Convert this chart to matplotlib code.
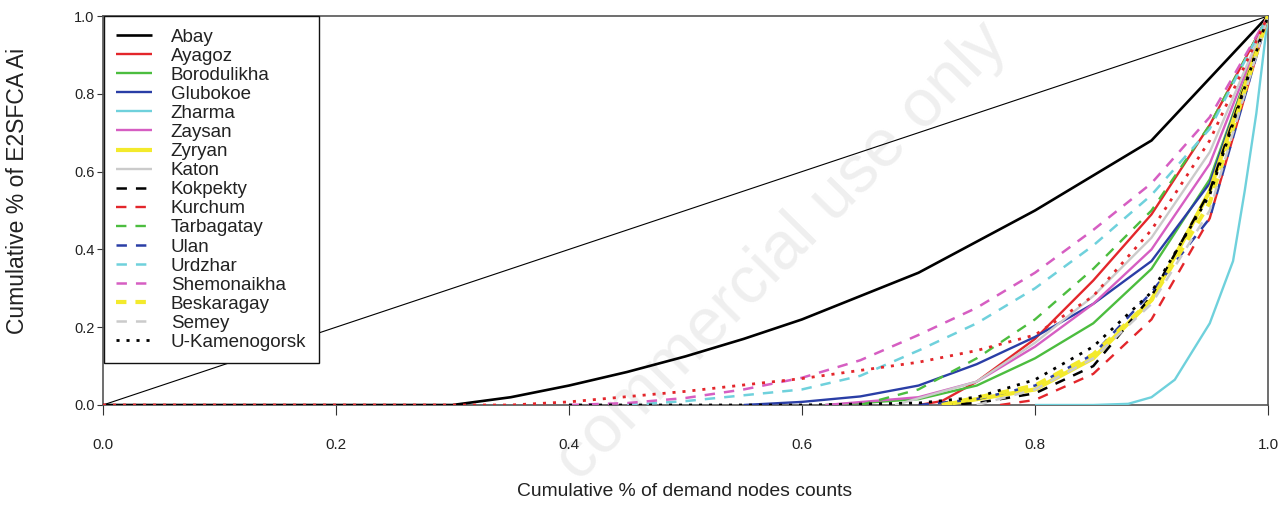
import matplotlib
matplotlib.use("Agg")
import matplotlib.pyplot as plt

plt.rcParams["font.family"] = ["Liberation Sans", "DejaVu Sans"]
plt.rcParams["lines.scale_dashes"] = False

# Lorenz-type curves: cumulative share of demand nodes vs cumulative share of E2SFCA Ai
names = ["Abay", "Ayagoz", "Borodulikha", "Glubokoe", "Zharma", "Zaysan", "Zyryan",
         "Katon", "Kokpekty", "Kurchum", "Tarbagatay", "Ulan", "Urdzhar",
         "Shemonaikha", "Beskaragay", "Semey", "U-Kamenogorsk"]

abay_x = [0.0, 0.30, 0.35, 0.40, 0.45, 0.50, 0.55, 0.60, 0.65, 0.70, 0.75, 0.80, 0.85, 0.90, 0.95, 1.0]
abay_y = [0.0, 0.0, 0.02, 0.05, 0.085, 0.125, 0.17, 0.22, 0.28, 0.34, 0.42, 0.50, 0.59, 0.68, 0.84, 1.0]

ayagoz_x = [0.70, 0.72, 0.75, 0.80, 0.85, 0.90, 0.95, 1.0]
ayagoz_y = [0.0, 0.01, 0.06, 0.17, 0.32, 0.49, 0.72, 1.0]

borodulikha_x = [0.62, 0.65, 0.70, 0.75, 0.80, 0.85, 0.90, 0.95, 1.0]
borodulikha_y = [0.0, 0.005, 0.015, 0.05, 0.12, 0.21, 0.35, 0.58, 1.0]

glubokoe_x = [0.55, 0.60, 0.65, 0.70, 0.75, 0.80, 0.85, 0.90, 0.95, 1.0]
glubokoe_y = [0.0, 0.008, 0.022, 0.05, 0.105, 0.175, 0.26, 0.37, 0.57, 1.0]

zharma_x = [0.80, 0.85, 0.88, 0.90, 0.92, 0.95, 0.97, 0.98, 0.99, 1.0]
zharma_y = [0.0, 0.0, 0.003, 0.02, 0.065, 0.21, 0.37, 0.55, 0.75, 1.0]

zaysan_x = [0.62, 0.70, 0.75, 0.80, 0.85, 0.90, 0.95, 1.0]
zaysan_y = [0.0, 0.02, 0.06, 0.15, 0.26, 0.40, 0.62, 1.0]

zyryan_x = [0.72, 0.80, 0.85, 0.90, 0.95, 1.0]
zyryan_y = [0.0, 0.04, 0.12, 0.27, 0.55, 1.0]

katon_x = [0.68, 0.75, 0.80, 0.85, 0.90, 0.95, 1.0]
katon_y = [0.0, 0.06, 0.16, 0.28, 0.43, 0.65, 1.0]

kokpekty_x = [0.72, 0.75, 0.80, 0.85, 0.90, 0.95, 1.0]
kokpekty_y = [0.0, 0.005, 0.03, 0.10, 0.28, 0.55, 1.0]

kurchum_x = [0.77, 0.80, 0.85, 0.90, 0.95, 1.0]
kurchum_y = [0.0, 0.013, 0.08, 0.22, 0.48, 1.0]

tarbagatay_x = [0.65, 0.70, 0.75, 0.80, 0.85, 0.90, 0.95, 1.0]
tarbagatay_y = [0.0, 0.04, 0.12, 0.22, 0.35, 0.50, 0.72, 1.0]

ulan_x = [0.70, 0.75, 0.80, 0.85, 0.90, 0.95, 1.0]
ulan_y = [0.0, 0.015, 0.05, 0.13, 0.29, 0.48, 1.0]

urdzhar_x = [0.45, 0.50, 0.55, 0.60, 0.65, 0.70, 0.75, 0.80, 0.85, 0.90, 0.95, 1.0]
urdzhar_y = [0.0, 0.01, 0.025, 0.04, 0.075, 0.14, 0.21, 0.30, 0.41, 0.54, 0.71, 1.0]

shemonaikha_x = [0.40, 0.45, 0.50, 0.55, 0.60, 0.65, 0.70, 0.75, 0.80, 0.85, 0.90, 0.95, 1.0]
shemonaikha_y = [0.0, 0.005, 0.018, 0.04, 0.07, 0.115, 0.18, 0.25, 0.34, 0.45, 0.57, 0.74, 1.0]

beskaragay_x = [0.72, 0.80, 0.85, 0.90, 0.95, 1.0]
beskaragay_y = [0.0, 0.05, 0.13, 0.27, 0.52, 1.0]

semey_x = [0.75, 0.80, 0.85, 0.90, 0.95, 1.0]
semey_y = [0.0, 0.04, 0.12, 0.26, 0.50, 1.0]

ukamenogorsk_x = [0.40, 0.60, 0.70, 0.75, 0.80, 0.85, 0.90, 0.95, 1.0]
ukamenogorsk_y = [0.0, 0.0, 0.005, 0.02, 0.065, 0.15, 0.29, 0.54, 1.0]

unlabelled_x = [0.0, 0.35, 0.40, 0.50, 0.60, 0.70, 0.75, 0.80, 0.85, 0.90, 0.95, 1.0]
unlabelled_y = [0.0, 0.0, 0.008, 0.035, 0.068, 0.11, 0.14, 0.18, 0.28, 0.45, 0.68, 1.0]

equality_x = [0.0, 1.0]
equality_y = [0.0, 1.0]

tick_values = [0.0, 0.2, 0.4, 0.6, 0.8, 1.0]
tick_labels = ["0.0", "0.2", "0.4", "0.6", "0.8", "1.0"]

series_x = [abay_x, ayagoz_x, borodulikha_x, glubokoe_x, zharma_x, zaysan_x, zyryan_x,
            katon_x, kokpekty_x, kurchum_x, tarbagatay_x, ulan_x, urdzhar_x,
            shemonaikha_x, beskaragay_x, semey_x, ukamenogorsk_x]
series_y = [abay_y, ayagoz_y, borodulikha_y, glubokoe_y, zharma_y, zaysan_y, zyryan_y,
            katon_y, kokpekty_y, kurchum_y, tarbagatay_y, ulan_y, urdzhar_y,
            shemonaikha_y, beskaragay_y, semey_y, ukamenogorsk_y]

# styling
BLACK, RED, GREEN, BLUE = "#000000", "#e3262b", "#4cbd3f", "#2a3ea6"
CYAN, MAGENTA, YELLOW, GRAY = "#6fd1dc", "#d65ec2", "#f3ea2c", "#cbcbcb"
colors = [BLACK, RED, GREEN, BLUE, CYAN, MAGENTA, YELLOW, GRAY,
          BLACK, RED, GREEN, BLUE, CYAN, MAGENTA, YELLOW, GRAY, BLACK]
DASH = (0, (7.5, 6.5))
DOT = (0, (2.2, 5.0))
styles = ["-"] * 8 + [DASH] * 8 + [DOT]
widths = [1.9, 1.7, 1.7, 1.7, 1.7, 1.7, 3.0, 1.7,
          1.8, 1.7, 1.7, 1.8, 1.8, 1.8, 3.0, 1.8, 2.0]

fig = plt.figure(figsize=(12.88, 5.05), dpi=100)
ax = fig.add_axes([103 / 1288, 100 / 505, 1165 / 1288, 389 / 505])
ax.set_zorder(1)
ax.patch.set_alpha(0)

# faint diagonal stamp behind the plot
fig.text(782 / 1288, 1 - 252 / 505, "commercial use only", fontsize=48.5, color="#efefef",
         rotation=45.5, ha="center", va="center", zorder=0)

ax.plot(equality_x, equality_y, color="#000000", lw=0.8, zorder=2)

for nm, xs, ys, c, ls, lw in zip(names, series_x, series_y, colors, styles, widths):
    ax.plot(xs, ys, color=c, linestyle=ls, lw=lw, label=nm, zorder=3,
            dash_capstyle="butt", solid_capstyle="butt")

ax.plot(unlabelled_x, unlabelled_y, color=RED, linestyle=DOT, lw=2.0, zorder=4,
        label="_nolegend_")

ax.set_xlim(0, 1)
ax.set_ylim(0, 1)
ax.set_xticks(tick_values)
ax.set_xticklabels(tick_labels)
ax.set_yticks(tick_values)
ax.set_yticklabels(tick_labels)

txt = "#222222"
ax.tick_params(axis="x", direction="out", length=7, width=0.8, pad=17,
               labelsize=11, labelcolor=txt, color="#333333")
ax.tick_params(axis="y", direction="out", length=4, width=0.8, pad=2,
               labelsize=10.5, labelcolor=txt, color="#333333")
for sp in ax.spines.values():
    sp.set_color("#555555")
    sp.set_linewidth(1.2)

fig.text(685 / 1288, 1 - 492 / 505, "Cumulative % of demand nodes counts",
         fontsize=13.9, color=txt, ha="center", va="center", zorder=2)
fig.text(18 / 1288, 1 - 191 / 505, "Cumulative % of E2SFCA Ai",
         fontsize=16.5, color=txt, ha="center", va="center", rotation=90, zorder=2)

leg = ax.legend(loc="upper left", bbox_to_anchor=(0.0008, 1.0), borderaxespad=0,
                fontsize=13.5, frameon=True, fancybox=False, framealpha=1,
                edgecolor="#111111", handlelength=1.9, handletextpad=1.0,
                labelspacing=0.105, borderpad=0.66)
leg.get_frame().set_linewidth(1.0)
for t in leg.get_texts():
    t.set_color(txt)

fig.savefig("out.png", dpi=100)
